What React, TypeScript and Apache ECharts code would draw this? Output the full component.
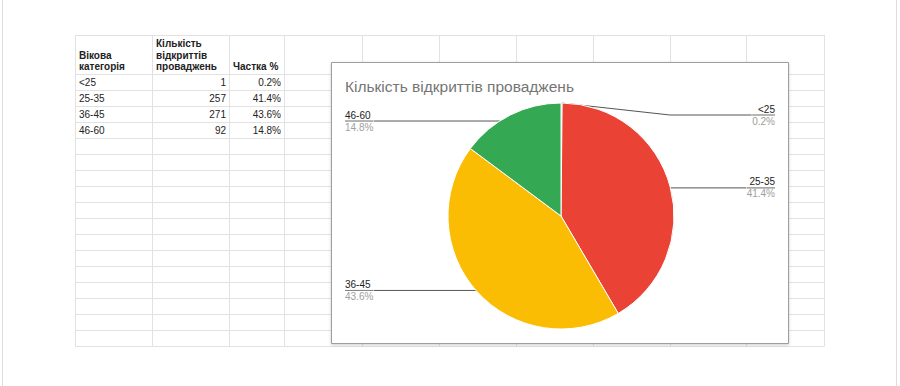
import React, { useEffect, useRef } from "react";
import * as echarts from "echarts";

// ---- data ----
const categories = ["<25", "25-35", "36-45", "46-60"];
const counts = [1, 257, 271, 92];
const headerLines = [
  ["Вікова", "категорія"],
  ["Кількість", "відкриттів", "проваджень"],
  ["Частка %"],
];
const chartTitle = "Кількість відкриттів проваджень";
const sliceColors = ["#4285F4", "#EA4335", "#FBBC04", "#34A853"];

// ---- layout (styles only) ----
const colX = [75, 152, 229, 284, 362, 439, 516, 593, 670, 746, 824];
const gridTop = 35;
const headerBottom = 74;
const rowH = 16;
const rowCount = 17;
const gridColor = "#e2e2e2";
const FONT = '"Liberation Sans", Arial, sans-serif';
const labelNudgeY = [12, 1, -1, 6];
const lineStartFollows = [false, true, true, true];
const lineInset = 6;

function buildGraphics() {
  const els: any[] = [];
  const bottom = headerBottom + rowH * rowCount;
  els.push({ type: "line", shape: { x1: 2.5, y1: 0, x2: 2.5, y2: 386 }, style: { stroke: "#dddddd", lineWidth: 1 } });
  els.push({ type: "line", shape: { x1: 896.5, y1: 0, x2: 896.5, y2: 386 }, style: { stroke: "#dddddd", lineWidth: 1 } });
  const ys = [gridTop];
  for (let k = 0; k <= rowCount; k++) ys.push(headerBottom + rowH * k);
  ys.forEach((y) =>
    els.push({
      type: "line",
      shape: { x1: colX[0], y1: y + 0.5, x2: colX[colX.length - 1], y2: y + 0.5 },
      style: { stroke: gridColor, lineWidth: 1 },
    })
  );
  colX.forEach((x) =>
    els.push({
      type: "line",
      shape: { x1: x + 0.5, y1: gridTop, x2: x + 0.5, y2: bottom + 0.5 },
      style: { stroke: gridColor, lineWidth: 1 },
    })
  );
  headerLines.forEach((lines, c) => {
    const n = lines.length;
    lines.forEach((t, j) => {
      els.push({
        type: "text",
        x: colX[c] + 4,
        y: 66.5 - (n - 1 - j) * 11.5,
        style: { text: t, font: `bold 10px ${FONT}`, fill: "#222", align: "left", verticalAlign: "middle" },
      });
    });
  });
  const total = counts.reduce((a, b) => a + b, 0);
  categories.forEach((cat, i) => {
    const cy = headerBottom + rowH * i + rowH / 2 + 0.5;
    els.push({ type: "text", x: colX[0] + 4, y: cy, style: { text: cat, font: `10px ${FONT}`, fill: "#222", align: "left", verticalAlign: "middle" } });
    els.push({ type: "text", x: colX[2] - 3, y: cy, style: { text: String(counts[i]), font: `10px ${FONT}`, fill: "#222", align: "right", verticalAlign: "middle" } });
    els.push({
      type: "text",
      x: colX[3] - 3,
      y: cy,
      style: { text: ((counts[i] / total) * 100).toFixed(1) + "%", font: `10px ${FONT}`, fill: "#222", align: "right", verticalAlign: "middle" },
    });
  });
  els.push({
    type: "rect",
    shape: { x: 331.5, y: 62.5, width: 457, height: 281 },
    style: { fill: "#fff", stroke: "#9e9e9e", lineWidth: 1, shadowBlur: 3, shadowColor: "rgba(0,0,0,0.2)", shadowOffsetY: 1 },
  });
  els.push({
    type: "text",
    x: 345,
    y: 86,
    style: { text: chartTitle, font: `15.5px ${FONT}`, fill: "#757575", align: "left", verticalAlign: "middle" },
  });
  return els;
}

export default function App() {
  const ref = useRef<HTMLDivElement>(null);
  useEffect(() => {
    if (!ref.current) return;
    const chart = echarts.init(ref.current, null, { renderer: "svg" });
    chart.setOption({
      animation: false,
      backgroundColor: "#ffffff",
      graphic: { elements: buildGraphics() },
      series: [
        {
          type: "pie",
          left: 331,
          top: 62,
          width: 458,
          height: 281,
          center: [230, 154],
          radius: 113,
          startAngle: 90,
          clockwise: true,
          color: sliceColors,
          minShowLabelAngle: 0,
          avoidLabelOverlap: true,
          itemStyle: { borderColor: "#ffffff", borderWidth: 1 },
          emphasis: { disabled: true },
          data: categories.map((c, i) => ({ name: c, value: counts[i] })),
          labelLayout: (p: any) => {
            const i = p.dataIndex;
            const dy = labelNudgeY[i] || 0;
            const pts = p.labelLinePoints;
            if (!pts || pts.length < 3) return { dy };
            const [p0, , p2] = pts;
            const follow = lineStartFollows[i];
            const dir = p2[0] > p0[0] ? 1 : -1;
            const start = follow ? [p0[0] - dir * lineInset, p0[1] + dy] : [p0[0], p0[1]];
            const midX = follow ? start[0] : p0[0] + (p2[0] - p0[0]) * 0.57;
            return {
              dy,
              labelLinePoints: [start, [midX, p2[1] + dy], [p2[0], p2[1] + dy]],
            };
          },
          label: {
            show: true,
            position: "outer",
            alignTo: "edge",
            edgeDistance: 14,
            distanceToLabelLine: 0,
            fontFamily: FONT,
            formatter: (p: any) => `{n|${p.name}}\n{hr|}\n{p|${p.percent.toFixed(1)}%}`,
            rich: {
              n: { fontSize: 10, color: "#222", lineHeight: 12, fontFamily: FONT },
              hr: { width: "100%", height: 0, borderWidth: 0.5, borderColor: "#555" },
              p: { fontSize: 10, color: "#9e9e9e", lineHeight: 12, fontFamily: FONT },
            },
          },
          labelLine: { show: true, length: 0, length2: 10, smooth: false, lineStyle: { color: "#555", width: 1 } },
        },
      ],
    });
    return () => chart.dispose();
  }, []);
  return <div ref={ref} style={{ position: "absolute", left: 0, top: 0, width: 900, height: 386 }} />;
}
